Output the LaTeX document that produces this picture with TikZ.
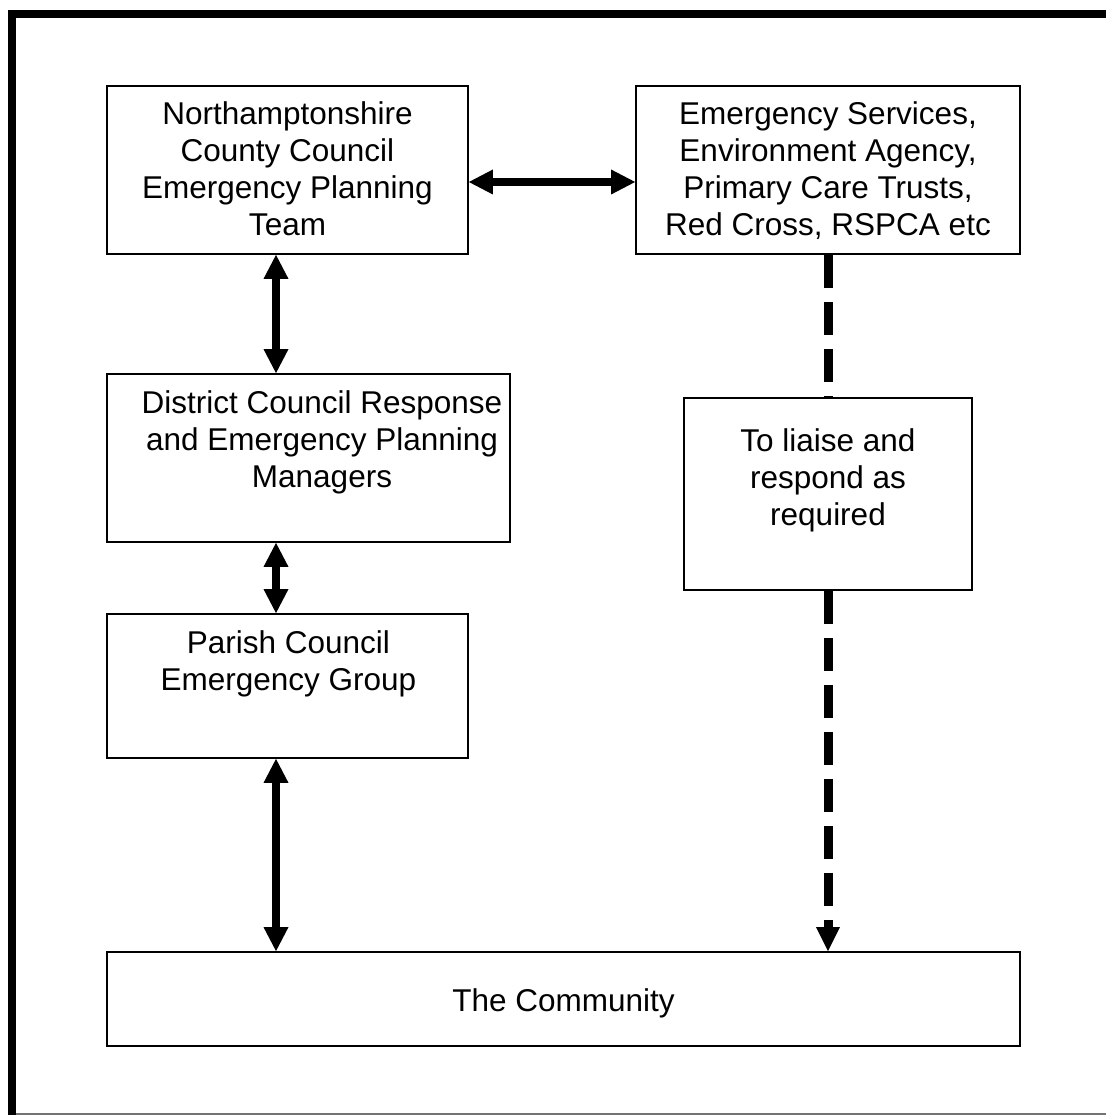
\documentclass[tikz,border=0pt]{standalone}
\usepackage{fontspec}
\setmainfont{Liberation Sans}
\usetikzlibrary{arrows.meta}
\begin{document}
\begin{tikzpicture}[x=1pt,y=-1pt,
  box/.style={draw=black, line width=1.8pt, rectangle, inner sep=0pt},
  txt/.style={font=\fontsize{31.5}{37}\selectfont, inner sep=0pt, anchor=base},
  tipA/.style={Triangle[length=24pt,width=25pt,line width=0pt]},
  biarrow/.style={line width=8pt, {Triangle[length=24pt,width=25pt,line width=0pt]}-{Triangle[length=24pt,width=25pt,line width=0pt]}},
  dashline/.style={line width=9pt, line cap=butt, dash pattern=on 33pt off 14pt}
]
\useasboundingbox (0,0) rectangle (1106,1115);
% frame
\fill[black] (8,10) rectangle (16,1115);
\fill[black] (8,10) rectangle (1106,18);
\draw[black!55, line width=1.5pt] (16,1114) -- (1106,1114);

% boxes
\node[box, minimum width=361pt, minimum height=168pt] (A) at (287.5,170) {};
\node[box, minimum width=384pt, minimum height=168pt] (B) at (828,170) {};
\node[box, minimum width=403pt, minimum height=168pt] (C) at (308.5,458) {};
\node[box, minimum width=361pt, minimum height=144pt] (D) at (287.5,686) {};
\node[box, minimum width=288pt, minimum height=192pt] (E) at (828,494) {};
\node[box, minimum width=913pt, minimum height=94pt] (F) at (563.5,999) {};

% texts
\node[txt] (At) at (287.5,125) {\parbox[t]{440pt}{\centering Northamptonshire\\County Council\\Emergency Planning\\Team}};
\node[txt] (Bt) at (828,125) {\parbox[t]{440pt}{\centering Emergency Services,\\Environment Agency,\\Primary Care Trusts,\\Red Cross, RSPCA etc}};
\node[txt] (Ct) at (322,413) {\parbox[t]{440pt}{\centering District Council Response\\and Emergency Planning\\Managers}};
\node[txt] (Dt) at (288.5,653) {\parbox[t]{440pt}{\centering Parish Council\\Emergency Group}};
\node[txt] (Et) at (828,451) {\parbox[t]{440pt}{\centering To liaise and\\respond as\\required}};
\node[txt] (Ft) at (563.5,1011) {The Community};

% connectors
\coordinate (colx) at (276,0);
\draw[biarrow] ([yshift=-12pt]A.east) -- ([yshift=-12pt]B.west);
\draw[biarrow] (A.south -| colx) -- (C.north -| colx);
\draw[biarrow] (C.south -| colx) -- (D.north -| colx);
\draw[biarrow] (D.south -| colx) -- (F.north -| colx);
\draw[dashline] (B.south) -- (E.north);
\draw[dashline, -{Triangle[length=24pt,width=24pt,line width=0pt]}] (E.south) -- (F.north -| E.south);
\end{tikzpicture}
\end{document}
